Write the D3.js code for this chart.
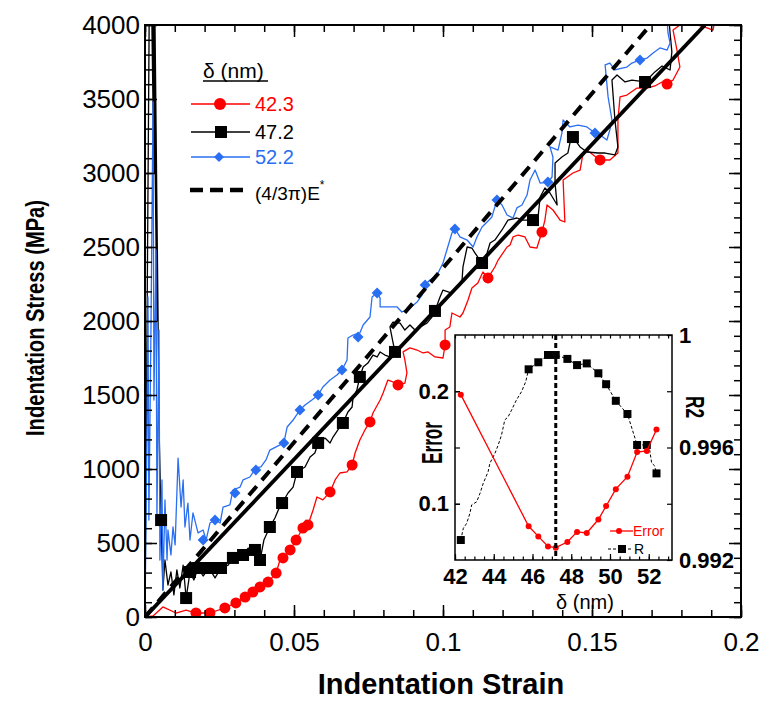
<!DOCTYPE html>
<html><head><meta charset="utf-8">
<script src="https://cdn.jsdelivr.net/npm/d3@7/dist/d3.min.js"></script>
<style>
body{margin:0;background:#fff;}
svg{display:block;font-family:"Liberation Sans",Arial,sans-serif;}
</style></head><body>
<svg id="chart" width="765" height="701"></svg>
<script>
// ---- Indentation stress-strain curves for three contact-depth offsets δ ----
const seriesLabels = ["42.3", "47.2", "52.2"];
const seriesColors = ["#ff0000", "#000000", "#2a6ff2"];

const redStrain = [0,0.0027,0.0060,0.0104,0.0138,0.0171,0.0218,0.0268,0.0305,0.0336,
  0.0362,0.0386,0.0413,0.0440,0.0453,0.0463,0.0487,0.0507,0.0530,0.0540,
  0.0547,0.0564,0.0577,0.0597,0.0621,0.0638,0.0654,0.0678,0.0695,0.0705,
  0.0721,0.0738,0.0755,0.0765,0.0789,0.0799,0.0815,0.0832,0.0849,0.0872,
  0.0879,0.0872,0.0866,0.0889,0.0913,0.0933,0.0950,0.0973,0.1000,0.1007,
  0.1007,0.1023,0.1030,0.1057,0.1067,0.1084,0.1097,0.1117,0.1134,0.1151,
  0.1174,0.1185,0.1215,0.1225,0.1235,0.1252,0.1275,0.1292,0.1315,0.1332,
  0.1342,0.1349,0.1369,0.1393,0.1409,0.1403,0.1436,0.1460,0.1470,0.1483,
  0.1517,0.1527,0.1560,0.1587,0.1587,0.1594,0.1617,0.1651,0.1685,0.1711,
  0.1735,0.1752,0.1772,0.1795,0.1785,0.1772,0.1795,0.1852,0.1886,0.1906,0.1913];
const redStress = [0,7,68,27,47,27,27,61,95,135,
  169,203,236,297,385,399,453,520,601,655,
  622,723,811,791,845,926,973,980,1027,1108,
  1196,1264,1318,1378,1466,1514,1601,1588,1568,1581,
  1649,1737,1791,1818,1804,1784,1791,1757,1750,1838,
  1939,1960,2054,2027,2054,2142,2223,2257,2331,2291,
  2365,2412,2500,2514,2568,2581,2568,2500,2493,2601,
  2682,2784,2750,2682,2669,2953,3000,3020,3135,3155,
  3101,3088,3088,3135,3358,3514,3527,3574,3574,3588,
  3615,3601,3628,3716,3831,3966,4000,4000,3980,3966,4034];
const redMarkStrain = [0.0171,0.0218,0.0268,0.0305,0.0336,0.0362,0.0386,0.0413,0.0440,0.0463,0.0487,0.0507,0.0530,0.0547,0.0621,0.0695,0.0755,0.0849,0.1007,0.1151,0.1332,0.1527,0.1752];
const redMarkStress = [27,27,61,95,135,169,203,236,297,399,453,520,601,622,845,1027,1318,1568,1838,2291,2601,3088,3601];

const blackStrain = [0,0.0017,0.0030,0.0024,0.0040,0.0030,0.0048,0.0054,0.0060,0.0067,0.0077,0.0087,0.0097,0.0107,
  0.0117,0.0128,0.0138,0.0151,0.0164,0.0178,0.0195,0.0215,0.0235,0.0255,
  0.0279,0.0295,0.0329,0.0346,0.0369,0.0386,0.0399,0.0419,0.0436,0.0453,
  0.0460,0.0480,0.0497,0.0510,0.0537,0.0554,0.0570,0.0581,0.0604,0.0621,
  0.0631,0.0654,0.0664,0.0681,0.0695,0.0698,0.0711,0.0721,0.0732,0.0748,
  0.0765,0.0779,0.0789,0.0805,0.0822,0.0839,0.0832,0.0822,0.0832,0.0856,
  0.0872,0.0889,0.0906,0.0923,0.0946,0.0963,0.0973,0.0990,0.1000,0.1030,
  0.1047,0.1064,0.1067,0.1081,0.1097,0.1107,0.1131,0.1148,0.1158,0.1174,
  0.1198,0.1218,0.1248,0.1268,0.1302,0.1319,0.1326,0.1342,0.1359,0.1383,
  0.1376,0.1376,0.1399,0.1419,0.1426,0.1436,0.1460,0.1483,0.1520,0.1544,
  0.1577,0.1587,0.1577,0.1567,0.1584,0.1611,0.1634,0.1678,0.1711,0.1735,
  0.1762,0.1768,0.1762,0.1758];
const blackStress = [0,4900,3000,4800,2000,4700,1200,655,182,385,216,304,149,318,
  196,351,128,304,250,331,277,331,264,331,
  351,399,419,466,453,385,520,608,669,750,
  770,838,878,980,1014,1081,1108,1176,1209,1176,
  1216,1284,1311,1385,1419,1480,1534,1622,1689,1716,
  1770,1757,1791,1770,1757,1791,1858,1960,1993,1986,
  1939,1973,1939,1960,1986,2027,2068,2162,2209,2189,
  2230,2277,2365,2500,2493,2460,2392,2460,2527,2547,
  2615,2682,2696,2682,2682,2703,2838,2899,2865,2784,
  2932,3068,3108,3135,3203,3243,3176,3142,3135,3135,
  3122,3176,3358,3628,3662,3615,3628,3615,3683,3723,
  3696,3818,3946,4047];
const blackMarkStrain = [0.0054,0.0138,0.0151,0.0178,0.0215,0.0255,0.0295,0.0329,0.0369,0.0386,0.0419,0.0460,0.0510,0.0581,0.0664,0.0721,0.0839,0.0973,0.1131,0.1302,0.1436,0.1678];
const blackMarkStress = [655,128,304,331,331,331,399,419,453,385,608,770,980,1176,1311,1622,1791,2068,2392,2682,3243,3615];

const blueStrain = [0,0.0007,0.0010,0.0013,0.0020,0.0027,0.0030,0.0037,0.0040,0.0047,
  0.0050,0.0057,0.0060,0.0067,0.0074,0.0077,0.0087,0.0094,0.0101,0.0111,
  0.0121,0.0128,0.0134,0.0144,0.0151,0.0161,0.0178,0.0195,0.0205,0.0218,
  0.0235,0.0252,0.0262,0.0285,0.0295,0.0319,0.0329,0.0352,0.0372,0.0389,
  0.0406,0.0419,0.0440,0.0466,0.0477,0.0497,0.0520,0.0537,0.0560,0.0581,
  0.0597,0.0621,0.0644,0.0661,0.0678,0.0681,0.0698,0.0721,0.0732,0.0755,
  0.0762,0.0779,0.0789,0.0789,0.0822,0.0846,0.0862,0.0889,0.0913,0.0930,
  0.0940,0.0956,0.0980,0.1000,0.1013,0.1030,0.1040,0.1057,0.1081,0.1101,
  0.1114,0.1131,0.1148,0.1164,0.1181,0.1198,0.1215,0.1235,0.1248,0.1265,
  0.1282,0.1292,0.1309,0.1326,0.1352,0.1366,0.1369,0.1359,0.1386,0.1399,
  0.1403,0.1426,0.1453,0.1483,0.1510,0.1527,0.1550,0.1560,0.1567,0.1554,
  0.1544,0.1560,0.1577,0.1601,0.1617,0.1634,0.1661,0.1685,0.1705,0.1728,
  0.1752,0.1762,0.1755,0.1752];
const blueStress = [0,1331,2162,655,1939,3480,1466,2480,655,1939,
  385,926,182,791,385,588,419,608,487,1074,
  743,926,608,770,520,703,568,588,520,635,
  655,635,743,757,858,878,926,946,1007,1014,
  1061,1128,1149,1176,1284,1331,1399,1432,1466,1500,
  1554,1601,1635,1669,1737,1885,1905,1919,1973,2027,
  2162,2189,2155,2095,2095,2095,2061,2088,2128,2176,
  2243,2277,2311,2392,2480,2595,2622,2568,2547,2500,
  2568,2635,2669,2703,2818,2784,2716,2696,2764,2784,
  2851,2953,3020,2932,2939,2973,3108,3176,3155,3270,
  3358,3311,3324,3311,3270,3257,3223,3291,3358,3514,
  3730,3743,3696,3709,3716,3743,3764,3777,3811,3845,
  3831,3878,3946,4034];
const blueMarkStrain = [0.0195,0.0235,0.0302,0.0372,0.0466,0.0520,0.0581,0.0661,0.0715,0.0779,0.0940,0.1040,0.1181,0.1352,0.1510,0.1661];
const blueMarkStress = [520,655,838,993,1176,1399,1500,1669,1892,2189,2243,2622,2818,2939,3270,3764];

// Straight reference lines: linear fit and (4/3π)E*
const fitStrain = [0, 0.1879];
const fitStress = [0, 4000];
const theoryStrain = [0, 0.1696];
const theoryStress = [0, 4000];

const xTicks = [0, 0.05, 0.1, 0.15, 0.2];
const yTicks = [0, 500, 1000, 1500, 2000, 2500, 3000, 3500, 4000];

// ---- Inset: fitting error and R² versus δ ----
const deltaNm = [42.3, 45.8, 46.3, 46.8, 47.2, 47.8, 48.3, 48.8, 49.4, 49.8, 50.3, 50.9, 51.4, 51.9, 52.4];
const errorVals = [0.197, 0.080, 0.071, 0.062, 0.061, 0.066, 0.075, 0.074, 0.086, 0.098, 0.113, 0.124, 0.146, 0.147, 0.166];
const r2Vals = [0.99271, 0.99878, 0.99903, 0.99929, 0.99929, 0.99915, 0.99893, 0.99899, 0.99864, 0.99825, 0.99766, 0.99719, 0.99609, 0.99609, 0.99508];
const r2TraceNm = [42.3,42.43,42.60,42.77,42.86,43.12,43.29,43.46,43.71,43.80,44.06,44.23,44.40,44.57,44.74,44.92,45.17,45.43,45.65,
  45.8,46.3,46.8,47.2,47.8,48.3,48.8,49.4,49.8,50.3,50.9,51.4,51.9,52.05,52.15,52.3,52.4];
const r2TraceVals = [0.99271,0.99313,0.99330,0.99366,0.99396,0.99407,0.99437,0.99473,0.99514,0.99544,0.99579,0.99609,0.99644,0.99698,0.99709,0.99733,0.99769,0.99798,0.99834,
  0.99878,0.99903,0.99929,0.99929,0.99915,0.99893,0.99899,0.99864,0.99825,0.99766,0.99719,0.99609,0.99609,0.99590,0.99545,0.99535,0.99508];
const bestDelta = 47.2;
const insetXTicks = [42, 44, 46, 48, 50, 52];
const errTicks = [0.1, 0.2];
const r2Ticks = [0.992, 0.996, 1];

const svg = d3.select("#chart");

// ---------- main chart ----------
const L = 145, R = 741, T = 25, B = 617;
const x = d3.scaleLinear().domain([0, 0.2]).range([L, R]);
const y = d3.scaleLinear().domain([0, 4000]).range([B, T]);

svg.append("clipPath").attr("id", "plotClip")
  .append("rect").attr("x", L).attr("y", T).attr("width", R - L).attr("height", B - T);

const plot = svg.append("g").attr("clip-path", "url(#plotClip)");

function drawSeries(sx, sy, color) {
  const idx = d3.range(sx.length);
  plot.append("path")
    .attr("d", d3.line().x(i => x(sx[i])).y(i => y(sy[i]))(idx))
    .attr("fill", "none").attr("stroke", color).attr("stroke-width", 1.3)
    .attr("stroke-linejoin", "round");
}
drawSeries(redStrain, redStress, seriesColors[0]);
drawSeries(blackStrain, blackStress, seriesColors[1]);
drawSeries(blueStrain, blueStress, seriesColors[2]);

// markers
plot.append("g").selectAll("circle").data(d3.range(redMarkStrain.length)).join("circle")
  .attr("cx", i => x(redMarkStrain[i])).attr("cy", i => y(redMarkStress[i]))
  .attr("r", 5.5).attr("fill", seriesColors[0]);
plot.append("g").selectAll("path").data(d3.range(blackMarkStrain.length)).join("path")
  .attr("transform", i => `translate(${x(blackMarkStrain[i])},${y(blackMarkStress[i])})`)
  .attr("d", d3.symbol().type(d3.symbolSquare).size(144)).attr("fill", "#000");
plot.append("g").selectAll("path").data(d3.range(blueMarkStrain.length)).join("path")
  .attr("transform", i => `translate(${x(blueMarkStrain[i])},${y(blueMarkStress[i])}) rotate(45)`)
  .attr("d", d3.symbol().type(d3.symbolSquare).size(60)).attr("fill", seriesColors[2]);

// reference lines
plot.append("path")
  .attr("d", d3.line()(fitStrain.map((s, i) => [x(s), y(fitStress[i])])))
  .attr("stroke", "#000").attr("stroke-width", 3.8).attr("fill", "none");
plot.append("path")
  .attr("d", d3.line()(theoryStrain.map((s, i) => [x(s), y(theoryStress[i])])))
  .attr("stroke", "#000").attr("stroke-width", 4).attr("fill", "none")
  .attr("stroke-dasharray", "12,8");

// axes (ticks pointing inward)
const styleAxis = g => { g.select(".domain").remove(); g.selectAll("line").attr("stroke", "#000").attr("stroke-width", 1.5); };
svg.append("g").attr("transform", `translate(${L},0)`)
  .call(d3.axisLeft(y).tickValues(d3.range(0, 4001, 100)).tickSize(-7).tickFormat("")).call(styleAxis);
svg.append("g").attr("transform", `translate(${R},0)`)
  .call(d3.axisRight(y).tickValues(d3.range(0, 4001, 100)).tickSize(-7).tickFormat("")).call(styleAxis);
svg.append("g").attr("transform", `translate(0,${B})`)
  .call(d3.axisBottom(x).tickValues(d3.range(0, 21).map(d => d / 100)).tickSize(-7).tickFormat("")).call(styleAxis);
svg.append("g").attr("transform", `translate(0,${T})`)
  .call(d3.axisTop(x).tickValues(d3.range(0, 21).map(d => d / 100)).tickSize(-7).tickFormat("")).call(styleAxis);

const yAx = svg.append("g").attr("transform", `translate(${L},0)`)
  .call(d3.axisLeft(y).tickValues(yTicks).tickSize(-12).tickPadding(5).tickFormat(d3.format("d"))).call(styleAxis);
yAx.selectAll("text").attr("font-size", 26).attr("fill", "#000").attr("font-family", "Liberation Sans, Arial, sans-serif");
const xAx = svg.append("g").attr("transform", `translate(0,${B})`)
  .call(d3.axisBottom(x).tickValues(xTicks).tickSize(-12).tickPadding(16).tickFormat(d => d === 0 ? "0" : String(d))).call(styleAxis);
xAx.selectAll("text").attr("font-size", 26).attr("fill", "#000").attr("font-family", "Liberation Sans, Arial, sans-serif");
svg.append("g").attr("transform", `translate(${R},0)`)
  .call(d3.axisRight(y).tickValues(yTicks).tickSize(-12).tickFormat("")).call(styleAxis);
svg.append("g").attr("transform", `translate(0,${T})`)
  .call(d3.axisTop(x).tickValues(xTicks).tickSize(-12).tickFormat("")).call(styleAxis);

svg.append("rect").attr("x", L).attr("y", T).attr("width", R - L).attr("height", B - T)
  .attr("fill", "none").attr("stroke", "#000").attr("stroke-width", 2);

// axis titles
svg.append("text").attr("x", 441).attr("y", 694).attr("text-anchor", "middle")
  .attr("font-size", 29).attr("font-weight", "bold").text("Indentation Strain");
svg.append("text").attr("transform", "translate(44,318) rotate(-90)").attr("text-anchor", "middle")
  .attr("font-size", 26).attr("font-weight", "bold").attr("textLength", 236).attr("lengthAdjust", "spacingAndGlyphs")
  .text("Indentation Stress (MPa)");

// ---------- legend ----------
const lg = svg.append("g");
lg.append("text").attr("x", 203).attr("y", 78).attr("font-size", 21).text("δ (nm)");
lg.append("line").attr("x1", 203).attr("x2", 268).attr("y1", 81).attr("y2", 81).attr("stroke", "#000").attr("stroke-width", 1.5);
const rowsY = [104, 132, 157];
rowsY.forEach((ry, k) => {
  lg.append("line").attr("x1", 191).attr("x2", 250).attr("y1", ry).attr("y2", ry)
    .attr("stroke", seriesColors[k]).attr("stroke-width", 1.5);
  lg.append("text").attr("x", 255).attr("y", ry + 7).attr("font-size", 20)
    .attr("fill", seriesColors[k]).text(seriesLabels[k]);
});
lg.append("circle").attr("cx", 220).attr("cy", rowsY[0]).attr("r", 6).attr("fill", seriesColors[0]);
lg.append("path").attr("transform", `translate(221,${rowsY[1]})`)
  .attr("d", d3.symbol().type(d3.symbolSquare).size(144)).attr("fill", "#000");
lg.append("path").attr("transform", `translate(219,${rowsY[2]}) rotate(45)`)
  .attr("d", d3.symbol().type(d3.symbolSquare).size(50)).attr("fill", seriesColors[2]);
lg.append("line").attr("x1", 190).attr("x2", 250).attr("y1", 190).attr("y2", 190)
  .attr("stroke", "#000").attr("stroke-width", 4.5).attr("stroke-dasharray", "13,7");
const eText = lg.append("text").attr("x", 255).attr("y", 200).attr("font-size", 19);
eText.append("tspan").text("(4/3π)E");
eText.append("tspan").attr("font-size", 12).attr("dy", -11).text("*");

// ---------- inset ----------
const iL = 455, iR = 672, iT = 335, iB = 560;
const xi = d3.scaleLinear().domain([42, 53.2]).range([iL, iR]);
const ye = d3.scaleLinear().domain([0.05, 0.25]).range([iB, iT]);
const yr = d3.scaleLinear().domain([0.992, 1.0]).range([iB, iT]);
const inset = svg.append("g");
inset.append("rect").attr("x", iL).attr("y", iT).attr("width", iR - iL).attr("height", iB - iT).attr("fill", "#fff");

const iStyle = g => { g.select(".domain").remove(); g.selectAll("line").attr("stroke", "#000").attr("stroke-width", 1.2); };
inset.append("g").attr("transform", `translate(0,${iB})`)
  .call(d3.axisBottom(xi).tickValues(d3.range(42, 53.01, 0.5)).tickSize(-3.5).tickFormat("")).call(iStyle);
inset.append("g").attr("transform", `translate(0,${iT})`)
  .call(d3.axisTop(xi).tickValues(d3.range(42, 53.01, 0.5)).tickSize(-3.5).tickFormat("")).call(iStyle);
const ixAx = inset.append("g").attr("transform", `translate(0,${iB})`)
  .call(d3.axisBottom(xi).tickValues(insetXTicks).tickSize(-6).tickPadding(8)).call(iStyle);
ixAx.selectAll("text").attr("font-size", 22).attr("font-weight", "bold").attr("fill", "#000").attr("font-family", "Liberation Sans, Arial, sans-serif");
inset.append("g").attr("transform", `translate(${iL},0)`)
  .call(d3.axisLeft(ye).tickValues([0.1, 0.15, 0.2]).tickSize(-5).tickFormat("")).call(iStyle);
const ieAx = inset.append("g").attr("transform", `translate(${iL},0)`)
  .call(d3.axisLeft(ye).tickValues(errTicks).tickSize(-5).tickPadding(6).tickFormat(d3.format(".1f"))).call(iStyle);
ieAx.selectAll("text").attr("font-size", 22).attr("font-weight", "bold").attr("fill", "#000").attr("font-family", "Liberation Sans, Arial, sans-serif");
inset.append("g").attr("transform", `translate(${iR},0)`)
  .call(d3.axisRight(yr).tickValues([0.994, 0.998]).tickSize(-5).tickFormat("")).call(iStyle);
const irAx = inset.append("g").attr("transform", `translate(${iR},0)`)
  .call(d3.axisRight(yr).tickValues(r2Ticks).tickSize(-5).tickPadding(7).tickFormat(d => d === 1 ? "1" : d3.format(".3f")(d))).call(iStyle);
irAx.selectAll("text").attr("font-size", 22).attr("font-weight", "bold").attr("fill", "#000").attr("font-family", "Liberation Sans, Arial, sans-serif");

// R² trace (dashed) with square markers
inset.append("path")
  .attr("d", d3.line().x(i => xi(r2TraceNm[i])).y(i => yr(r2TraceVals[i]))(d3.range(r2TraceNm.length)))
  .attr("fill", "none").attr("stroke", "#000").attr("stroke-width", 1).attr("stroke-dasharray", "3,2");
inset.append("g").selectAll("path").data(d3.range(deltaNm.length)).join("path")
  .attr("transform", i => `translate(${xi(deltaNm[i])},${yr(r2Vals[i])})`)
  .attr("d", d3.symbol().type(d3.symbolSquare).size(64)).attr("fill", "#000");

// error trace
inset.append("path")
  .attr("d", d3.line().x(i => xi(deltaNm[i])).y(i => ye(errorVals[i]))(d3.range(deltaNm.length)))
  .attr("fill", "none").attr("stroke", "#ff0000").attr("stroke-width", 1.3);
inset.append("g").selectAll("circle").data(d3.range(deltaNm.length)).join("circle")
  .attr("cx", i => xi(deltaNm[i])).attr("cy", i => ye(errorVals[i])).attr("r", 3).attr("fill", "#ff0000");

// optimum δ marker
inset.append("line").attr("x1", xi(bestDelta)).attr("x2", xi(bestDelta)).attr("y1", iT).attr("y2", iB)
  .attr("stroke", "#000").attr("stroke-width", 3).attr("stroke-dasharray", "5,3");

inset.append("rect").attr("x", iL).attr("y", iT).attr("width", iR - iL).attr("height", iB - iT)
  .attr("fill", "none").attr("stroke", "#000").attr("stroke-width", 1.5);

// inset legend
inset.append("line").attr("x1", 610).attr("x2", 633).attr("y1", 531).attr("y2", 531).attr("stroke", "#ff0000").attr("stroke-width", 1.3);
inset.append("circle").attr("cx", 619).attr("cy", 531).attr("r", 3).attr("fill", "#ff0000");
inset.append("text").attr("x", 633).attr("y", 536).attr("font-size", 14).attr("fill", "#ff0000").text("Error");
inset.append("line").attr("x1", 608).attr("x2", 632).attr("y1", 549).attr("y2", 549).attr("stroke", "#000").attr("stroke-width", 1).attr("stroke-dasharray", "3,2");
inset.append("path").attr("transform", "translate(622,549)").attr("d", d3.symbol().type(d3.symbolSquare).size(64)).attr("fill", "#000");
inset.append("text").attr("x", 634).attr("y", 554).attr("font-size", 14).text("R");

// inset axis titles
inset.append("text").attr("x", 585).attr("y", 609).attr("text-anchor", "middle").attr("font-size", 20).text("δ (nm)");
inset.append("text").attr("transform", "translate(442,443) rotate(-90)").attr("text-anchor", "middle")
  .attr("font-size", 29).attr("font-weight", "bold").attr("textLength", 42).attr("lengthAdjust", "spacingAndGlyphs").text("Error");
inset.append("text").attr("transform", "translate(686,407) rotate(90)").attr("text-anchor", "middle")
  .attr("font-size", 26).attr("font-weight", "bold").attr("textLength", 22).attr("lengthAdjust", "spacingAndGlyphs").text("R2");
</script>
</body></html>
